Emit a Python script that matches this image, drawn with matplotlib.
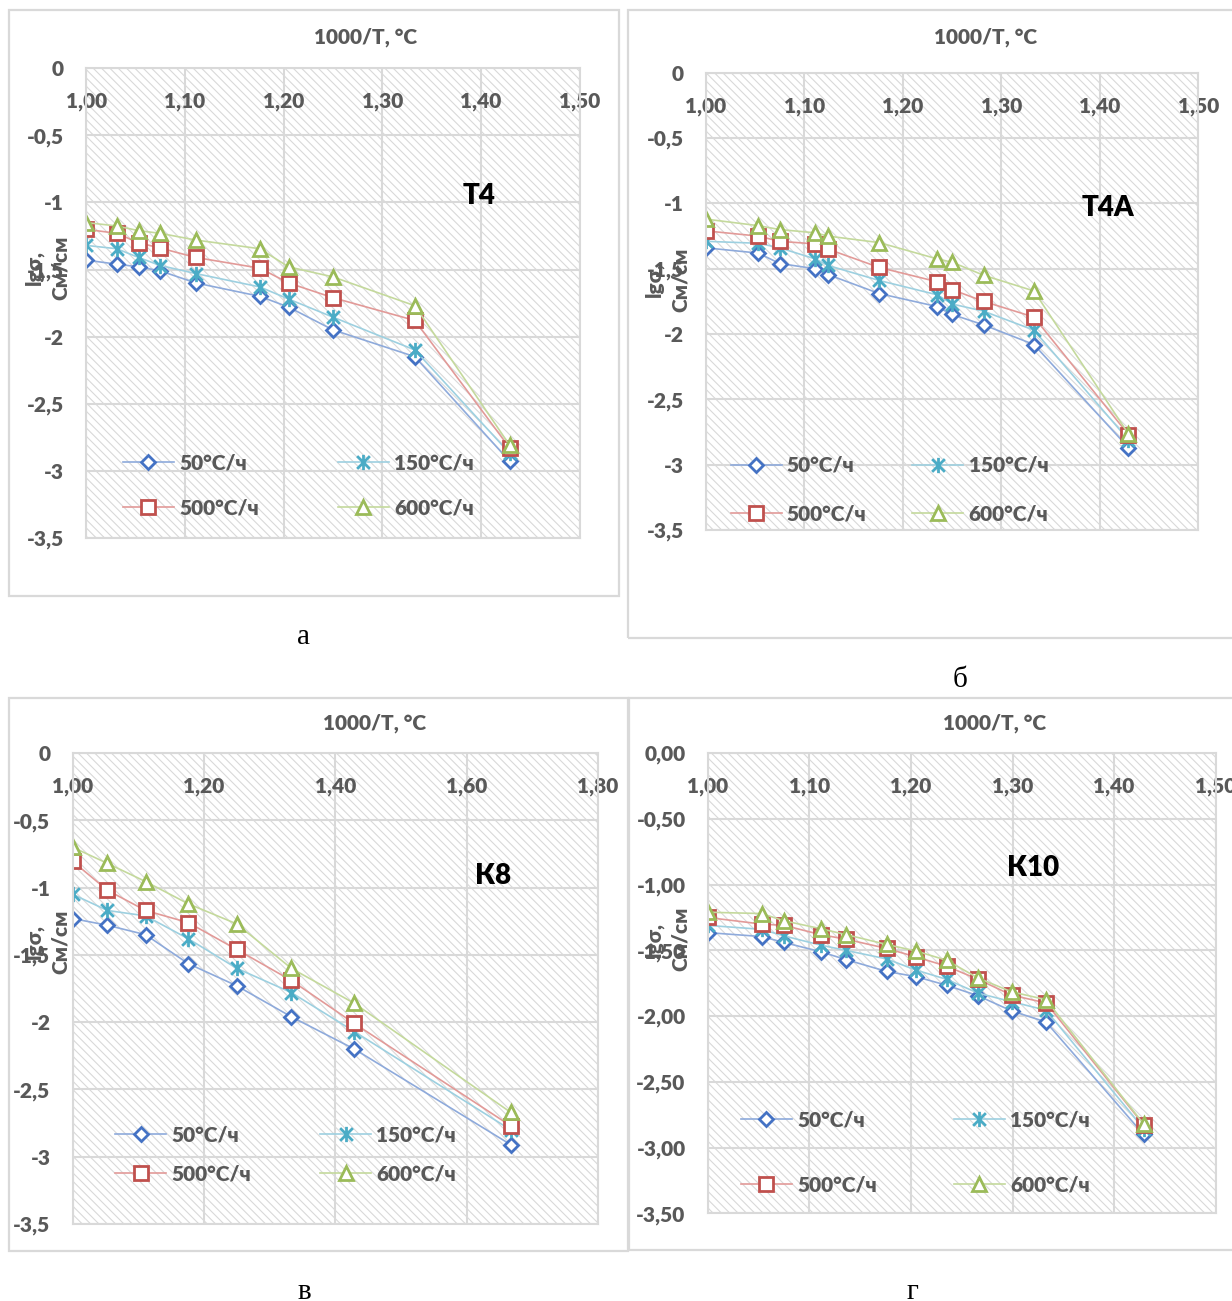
import matplotlib
matplotlib.use('Agg')
import matplotlib.pyplot as plt
from matplotlib.path import Path
from matplotlib.patches import Rectangle

plt.rcParams['font.family'] = ['Lato', 'DejaVu Sans']
plt.rcParams['font.weight'] = 'heavy'
plt.rcParams['hatch.linewidth'] = 0.8

# ---- data (1000/T and lg sigma) ----
labels = ['50°C/ч', '150°C/ч', '500°C/ч', '600°C/ч']

x_t4 = [1.000, 1.031, 1.053, 1.075, 1.111, 1.176, 1.205, 1.250, 1.333, 1.429]
t4_50 = [-1.43, -1.46, -1.48, -1.51, -1.60, -1.70, -1.78, -1.95, -2.15, -2.93]
t4_150 = [-1.32, -1.345, -1.41, -1.47, -1.53, -1.63, -1.72, -1.855, -2.10, -2.87]
t4_500 = [-1.20, -1.23, -1.30, -1.34, -1.41, -1.49, -1.60, -1.71, -1.88, -2.83]
t4_600 = [-1.15, -1.175, -1.21, -1.23, -1.28, -1.345, -1.48, -1.555, -1.77, -2.81]

x_t4a = [1.000, 1.053, 1.075, 1.111, 1.124, 1.176, 1.235, 1.250, 1.282, 1.333, 1.429]
t4a_50 = [-1.34, -1.38, -1.46, -1.50, -1.545, -1.69, -1.79, -1.85, -1.93, -2.08, -2.87]
t4a_150 = [-1.29, -1.305, -1.34, -1.425, -1.475, -1.59, -1.70, -1.77, -1.825, -1.97, -2.81]
t4a_500 = [-1.21, -1.25, -1.29, -1.31, -1.35, -1.49, -1.60, -1.66, -1.75, -1.87, -2.77]
t4a_600 = [-1.12, -1.17, -1.20, -1.225, -1.25, -1.30, -1.425, -1.45, -1.55, -1.67, -2.765]

x_k8 = [1.000, 1.053, 1.111, 1.176, 1.250, 1.333, 1.429, 1.667]
k8_50 = [-1.23, -1.28, -1.35, -1.565, -1.73, -1.96, -2.20, -2.91]
k8_150 = [-1.05, -1.17, -1.21, -1.38, -1.60, -1.78, -2.07, -2.80]
k8_500 = [-0.805, -1.02, -1.17, -1.26, -1.46, -1.69, -2.01, -2.77]
k8_600 = [-0.70, -0.82, -0.955, -1.12, -1.27, -1.60, -1.86, -2.67]

x_k10 = [1.000, 1.053, 1.075, 1.111, 1.136, 1.176, 1.205, 1.235, 1.266, 1.299, 1.333, 1.429]
k10_50 = [-1.365, -1.395, -1.44, -1.51, -1.57, -1.66, -1.70, -1.765, -1.845, -1.96, -2.045, -2.90]
k10_150 = [-1.31, -1.34, -1.39, -1.46, -1.50, -1.565, -1.65, -1.72, -1.825, -1.89, -1.955, -2.855]
k10_500 = [-1.25, -1.30, -1.31, -1.38, -1.415, -1.485, -1.55, -1.62, -1.72, -1.84, -1.90, -2.825]
k10_600 = [-1.21, -1.22, -1.275, -1.335, -1.38, -1.455, -1.505, -1.575, -1.71, -1.815, -1.875, -2.82]

W, H = 1232, 1301
fig = plt.figure(figsize=(W / 100, H / 100), dpi=100)

star = Path([(-1, -1), (1, 1), (-1, 1), (1, -1), (0, -1.2), (0, 1.2)],
            [Path.MOVETO, Path.LINETO] * 3)
styles = [
    dict(color='#8eaadb', marker='D', ms=7.5, mec='#4472c4', mew=2),
    dict(color='#9dd0e0', marker=star, ms=11, mec='#4bacc6', mew=2),
    dict(color='#e29a98', marker='s', ms=10, mec='#c0504d', mew=2),
    dict(color='#c4d99c', marker='^', ms=10.5, mec='#9bbb59', mew=2),
]
grey = '#d9d9d9'
txt = '#595959'


def frame(x0, y0, x1, y1):
    fig.add_artist(Rectangle((x0 / W, 1 - y1 / H), (x1 - x0) / W, (y1 - y0) / H,
                             transform=fig.transFigure, fill=False, ec=grey, lw=1.6))


def panel(box, xs, series, name, name_xy, xticks, yfmt, ylab_xy, title_xy, leg):
    x0, x1, yt, yb = box
    ax = fig.add_axes([x0 / W, 1 - yb / H, (x1 - x0) / W, (yb - yt) / H])
    ax.add_patch(Rectangle((0, 0), 1, 1, transform=ax.transAxes, fc='white', ec=grey,
                           lw=0, hatch='\\\\\\\\', zorder=0))
    for ys, st, lab in zip(series, styles, labels):
        ax.plot(xs, ys, lw=1.2, mfc='white', label=lab, **st)
    ax.set_xlim(xticks[0], xticks[-1])
    ax.set_ylim(-3.5, 0)
    ax.set_xticks(xticks)
    ax.set_xticklabels([f'{v:.2f}'.replace('.', ',') for v in xticks])
    yt_vals = [0, -0.5, -1, -1.5, -2, -2.5, -3, -3.5]
    ax.set_yticks(yt_vals)
    ax.set_yticklabels([yfmt(v) for v in yt_vals])
    ax.xaxis.tick_top()
    ax.tick_params(axis='x', length=0, pad=-31, labelsize=15, labelcolor=txt)
    ax.tick_params(axis='y', length=0, pad=16, labelsize=15, labelcolor=txt)
    for t in ax.get_xticklabels() + ax.get_yticklabels():
        t.set_fontweight('heavy')
    ax.grid(True, color=grey, lw=1.5)
    ax.set_axisbelow(True)
    for s in ax.spines.values():
        s.set_color(grey)
        s.set_linewidth(1.5)
    ax.set_ylabel('lgσ,\nСм/см', fontsize=15, color=txt, fontweight='heavy',
                  linespacing=1.45)
    ax.yaxis.set_label_coords(*ylab_xy)
    ax.text(title_xy[0], title_xy[1], '1000/T, °C', transform=ax.transAxes,
            ha='center', va='center', fontsize=15, color=txt, fontweight='heavy')
    ax.text(name_xy[0], name_xy[1], name, transform=ax.transAxes, ha='center',
            va='center', fontsize=20, fontweight='heavy', color='black')
    h, l = ax.get_legend_handles_labels()
    order = [0, 2, 1, 3]
    lg = ax.legend([h[i] for i in order], [l[i] for i in order], ncol=2,
                   loc='center left', bbox_to_anchor=leg[0], frameon=False,
                   fontsize=15, handlelength=2.45, handletextpad=0.25,
                   columnspacing=leg[1], labelspacing=leg[2], borderpad=0,
                   borderaxespad=0)
    for t in lg.get_texts():
        t.set_color(txt)
        t.set_fontweight('heavy')
    return ax


def fmt_g(v):
    return f'{v:g}'.replace('.', ',')


def fmt_2(v):
    return f'{v:.2f}'.replace('.', ',')


frame(8.7, 10.4, 619, 596)
frame(627.8, 10, 1250, 638)
frame(8.8, 697.8, 627.6, 1251)
frame(628.6, 697.8, 1250, 1250)

panel((86.2, 579.7, 68.4, 537.7), x_t4, [t4_50, t4_150, t4_500, t4_600], 'Т4',
      (0.797, 0.728), [1.0, 1.1, 1.2, 1.3, 1.4, 1.5], fmt_g, (-0.033, 0.575),
      (0.567, 1.067), ((0.074, 0.111), 3.8, 1.25))
panel((705.9, 1198.4, 72.8, 530.0), x_t4a, [t4a_50, t4a_150, t4a_500, t4a_600], 'Т4А',
      (0.816, 0.705), [1.0, 1.1, 1.2, 1.3, 1.4, 1.5], fmt_g, (-0.032, 0.547),
      (0.567, 1.078), ((0.050, 0.0886), 2.2, 1.41))
panel((72.7, 597.8, 753.1, 1223.9), x_k8, [k8_50, k8_150, k8_500, k8_600], 'К8',
      (0.801, 0.738), [1.0, 1.2, 1.4, 1.6, 1.8], fmt_g, (-0.005, 0.60),
      (0.575, 1.064), ((0.081, 0.147), 3.3, 0.96))
panel((707.8, 1215.7, 753.1, 1213.4), x_k10, [k10_50, k10_150, k10_500, k10_600], 'К10',
      (0.640, 0.750), [1.0, 1.1, 1.2, 1.3, 1.4, 1.5], fmt_2, (-0.035, 0.596),
      (0.565, 1.065), ((0.065, 0.133), 3.7, 2.21))

for cx, cy, c in [(303, 637, 'а'), (960, 680, 'б'), (304, 1292, 'в'), (912, 1292, 'г')]:
    fig.text(cx / W, 1 - cy / H, c, family='Liberation Serif', fontsize=21,
             fontweight='normal', ha='center', va='center')

fig.savefig('out.png', dpi=100)
